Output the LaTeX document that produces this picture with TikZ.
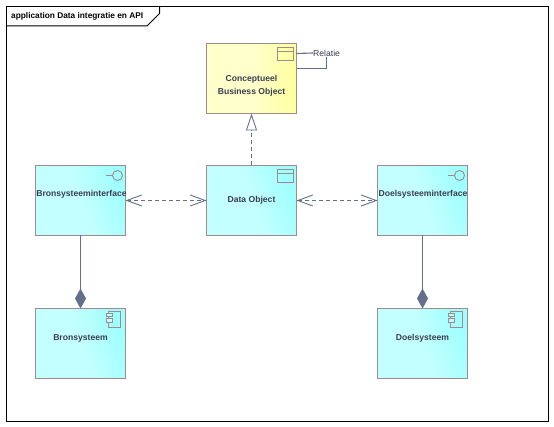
\documentclass[tikz,border=0pt]{standalone}
\usepackage{fontspec}
\usepackage{xcolor}
\usetikzlibrary{positioning, arrows.meta}
\setmainfont{Liberation Sans}
\definecolor{cyanedge}{HTML}{9FFFFF}
\definecolor{cyanmid}{HTML}{C4FFFF}
\definecolor{yellowedge}{HTML}{FFFF9F}
\definecolor{yellowmid}{HTML}{FFFFCC}
\definecolor{boxline}{HTML}{A08A8A}
\definecolor{conn}{HTML}{646F8C}
\definecolor{ink}{HTML}{3A3F4E}
\newcommand{\objicon}[1]{%
  \draw[iconline] ([xshift=-19pt,yshift=-4pt]#1.north east) rectangle ([xshift=-3pt,yshift=-16.5pt]#1.north east);
  \draw[iconline] ([xshift=-19pt,yshift=-7.5pt]#1.north east) -- ([xshift=-3pt,yshift=-7.5pt]#1.north east);}
\newcommand{\ifaceicon}[1]{%
  \draw[iconline] ([xshift=-8pt,yshift=-10pt]#1.north east) circle (5pt);
  \draw[iconline] ([xshift=-19.5pt,yshift=-10pt]#1.north east) -- ([xshift=-13pt,yshift=-10pt]#1.north east);}
\newcommand{\compicon}[1]{%
  \draw[iconline] ([xshift=-17pt,yshift=-2.5pt]#1.north east) rectangle ([xshift=-5pt,yshift=-18.5pt]#1.north east);
  \draw[iconline, fill=cyanmid] ([xshift=-19.5pt,yshift=-4.5pt]#1.north east) rectangle ([xshift=-13pt,yshift=-8pt]#1.north east);
  \draw[iconline, fill=cyanmid] ([xshift=-19.5pt,yshift=-10pt]#1.north east) rectangle ([xshift=-13pt,yshift=-13.5pt]#1.north east);}
\begin{document}
\begin{tikzpicture}[x=1pt, y=-1pt,
    font=\fontsize{8.3pt}{13pt}\selectfont,
    appbox/.style={draw=boxline, line width=1pt, minimum width=90pt, minimum height=70pt,
      inner sep=0pt, outer sep=0pt, left color=cyanmid, right color=cyanedge, middle color=cyanmid, shading angle=110},
    bizbox/.style={appbox, left color=yellowmid, right color=yellowedge, middle color=yellowmid},
    boxtext/.style={text=ink, font=\fontsize{8.6pt}{13pt}\selectfont\bfseries, align=center},
    iconline/.style={draw=boxline, line width=0.9pt},
    dep/.style={draw=conn, line width=0.9pt, dashed, dash pattern=on 4pt off 3pt},
    link/.style={draw=conn, line width=1.1pt},
    node distance=52pt and 81pt]
  \useasboundingbox (0,0) rectangle (554,427);
  \fill[white] (0,0) rectangle (554,427);
  % frame
  \draw[line width=1pt] (6.5,6.5) rectangle (548,421);
  \draw[line width=1pt] (6.5,26) -- (147,26) -- (159.5,13.5) -- (159.5,6.5);
  \node (frametitle) [anchor=west, inner sep=0pt, font=\fontsize{8.3pt}{10pt}\selectfont\bfseries] at (11,16.5) {application Data integratie en API};
  % boxes
  \node (concept) [bizbox, anchor=north west] at (206.5,43.5) {};
  \node (data) [appbox, below=of concept] {};
  \node (bronif) [appbox, left=of data] {};
  \node (doelif) [appbox, right=of data] {};
  \node (bron) [appbox, below=73pt of bronif] {};
  \node (doel) [appbox, below=73pt of doelif] {};
  \node (concepttext) [boxtext, yshift=-7pt] at (concept) {Conceptueel\\Business Object};
  \node (datatext) [boxtext, yshift=0.5pt] at (data) {Data Object};
  \node (bronitext) [boxtext, xshift=1pt, yshift=6pt] at (bronif) {Bronsysteeminterface};
  \node (doelitext) [boxtext, xshift=0.5pt, yshift=6pt] at (doelif) {Doelsysteeminterface};
  \node (brontext) [boxtext, yshift=5.5pt] at (bron) {Bronsysteem};
  \node (doeltext) [boxtext, yshift=5.5pt] at (doel) {Doelsysteem};
  \objicon{concept}
  \objicon{data}
  \ifaceicon{bronif}
  \ifaceicon{doelif}
  \compicon{bron}
  \compicon{doel}
  % connectors
  \draw[dep, -{Triangle[open, length=17pt, width=11pt, fill=white, line width=0.9pt]}] (data) -- (concept);
  \draw[dep, {Straight Barb[length=15pt, width=11pt, line width=0.9pt]}-{Straight Barb[length=15pt, width=11pt, line width=0.9pt]}] (bronif) -- (data);
  \draw[dep, {Straight Barb[length=15pt, width=11pt, line width=0.9pt]}-{Straight Barb[length=15pt, width=11pt, line width=0.9pt]}] (data) -- (doelif);
  \draw[link, -{Diamond[length=20pt, width=11pt, fill=conn]}] (bronif) -- (bron);
  \draw[link, -{Diamond[length=20pt, width=11pt, fill=conn]}] (doelif) -- (doel);
  % note
  \node (relatie) [anchor=west, inner sep=0pt, text=ink, font=\fontsize{8.6pt}{10pt}\selectfont] at (313,53) {Relatie};
  \coordinate (conceptone) at ([yshift=-10pt]concept.north east);
  \coordinate (concepttwo) at ([yshift=-25pt]concept.north east);
  \draw[link] (conceptone) -- (relatie.west);
  \draw[link] (concepttwo) -| ([yshift=-1pt]relatie.south);
\end{tikzpicture}
\end{document}
